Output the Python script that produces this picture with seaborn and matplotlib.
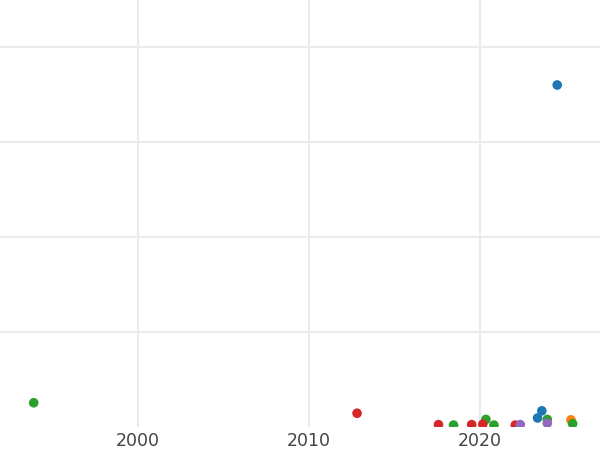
import matplotlib
matplotlib.use("Agg")
import matplotlib.pyplot as plt
import seaborn as sns
import pandas as pd

# data
years = [2024.5, 2023.35, 2023.6,
         2025.3,
         1993.9, 2018.44, 2020.33, 2020.8, 2023.92, 2025.4,
         2012.8, 2017.56, 2019.5, 2020.15, 2022.05,
         2022.34, 2023.92]
values = [72.0, 1.9, 3.4,
          1.5,
          5.1, 0.4, 1.6, 0.4, 1.6, 0.7,
          2.9, 0.5, 0.5, 0.6, 0.4,
          0.5, 0.8]
groups = ["A", "A", "A",
          "B",
          "C", "C", "C", "C", "C", "C",
          "D", "D", "D", "D", "D",
          "E", "E"]
group_order = ["A", "B", "C", "D", "E"]

df = pd.DataFrame({"year": years, "value": values, "group": groups})

sns.set_theme(style="whitegrid")
plt.rcParams['font.family'] = ['DejaVu Sans']

fig = plt.figure(figsize=(6, 4.5), dpi=100)
ax = fig.add_axes([0, 23 / 450, 1, 427 / 450])

sns.scatterplot(data=df, x="year", y="value", hue="group", hue_order=group_order,
                palette="tab10", s=48, linewidth=0, legend=False, ax=ax)

ax.set_xlim(1991.93, 2027.0)
ax.set_ylim(0, 427 / 95 * 20)
ax.set_xticks([2000, 2010, 2020])
ax.set_yticks([20, 40, 60, 80])
ax.set_yticklabels([])
ax.tick_params(axis="x", labelsize=12.5, colors="#444444", length=0, pad=3.5)
ax.tick_params(axis="y", length=0)
ax.grid(True, color="#ebebeb", linewidth=1.5)
ax.set_xlabel("")
ax.set_ylabel("")
for sp in ax.spines.values():
    sp.set_visible(False)
ax.set_facecolor("white")

fig.savefig("out.png", dpi=100)
